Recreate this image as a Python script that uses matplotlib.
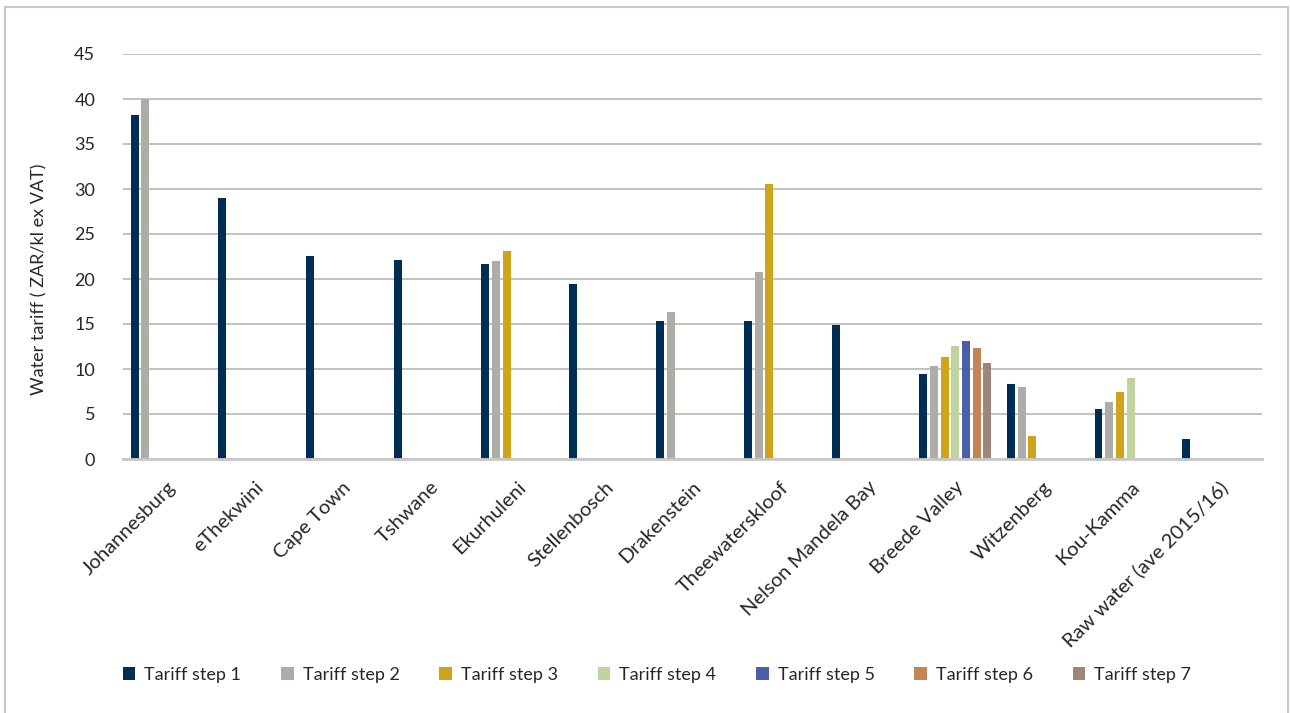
import numpy as np
import matplotlib
matplotlib.use("Agg")
import matplotlib.pyplot as plt
from matplotlib.patches import Rectangle

# ==========================================
# DATA
# ==========================================
CATEGORIES = [
    "Johannesburg", "eThekwini", "Cape Town", "Tshwane", "Ekurhuleni",
    "Stellenbosch", "Drakenstein", "Theewaterskloof", "Nelson Mandela Bay",
    "Breede Valley", "Witzenberg", "Kou-Kamma", "Raw water (ave 2015/16)",
]

SERIES_NAMES = [f"Tariff step {i}" for i in range(1, 8)]

# NaN = no bar for that step
nan = np.nan
STEP_1 = [38.2, 29.0, 22.6, 22.1, 21.7, 19.4, 15.3, 15.3, 14.9, 9.5, 8.35, 5.6, 2.2]
STEP_2 = [40.0, nan, nan, nan, 22.05, nan, 16.3, 20.8, nan, 10.35, 8.0, 6.35, nan]
STEP_3 = [nan, nan, nan, nan, 23.15, nan, nan, 30.55, nan, 11.35, 2.6, 7.45, nan]
STEP_4 = [nan, nan, nan, nan, nan, nan, nan, nan, nan, 12.55, nan, 9.0, nan]
STEP_5 = [nan, nan, nan, nan, nan, nan, nan, nan, nan, 13.1, nan, nan, nan]
STEP_6 = [nan, nan, nan, nan, nan, nan, nan, nan, nan, 12.35, nan, nan, nan]
STEP_7 = [nan, nan, nan, nan, nan, nan, nan, nan, nan, 10.65, nan, nan, nan]

SERIES = [STEP_1, STEP_2, STEP_3, STEP_4, STEP_5, STEP_6, STEP_7]

COLORS = ["#002D53", "#AFACA8", "#D0A418", "#C0D39E", "#4B5FA8", "#C38456", "#9C867A"]

# ==========================================
# PLOT
# ==========================================
plt.rcParams["font.family"] = ["Lato", "DejaVu Sans"]

fig = plt.figure(figsize=(12.9, 7.13), dpi=100)
ax = fig.add_axes([123 / 1290, 1 - 459 / 713, 1139 / 1290, 405 / 713])

x = np.arange(len(CATEGORIES))
slot = 0.122
bar_width = 0.091
n = len(SERIES)

for j, (name, values, color) in enumerate(zip(SERIES_NAMES, SERIES, COLORS)):
    offset = (j - (n - 1) / 2) * slot
    ax.bar(x + offset, values, width=bar_width, color=color, label=name, zorder=3)

ax.set_xlim(-0.5, len(CATEGORIES) - 0.5)
ax.set_ylim(0, 45)
ax.set_yticks(range(0, 50, 5))

ax.grid(axis="y", color="#BAB8B4", linewidth=1.2, zorder=0)
ax.set_axisbelow(True)

for side in ["top", "right", "left"]:
    ax.spines[side].set_visible(False)
ax.spines["bottom"].set_color("#C8C8C8")
ax.spines["bottom"].set_linewidth(2)
ax.spines["bottom"].set_zorder(4)

ax.tick_params(axis="y", length=0, pad=20, labelsize=13, labelcolor="#262626")
ax.tick_params(axis="x", length=0, pad=14, labelsize=14.5, labelcolor="#262626")

ax.set_xticks(x)
ax.set_xticklabels(CATEGORIES, rotation=45, ha="right", rotation_mode="anchor")

ax.set_ylabel("Water tariff ( ZAR/kl ex VAT)", fontsize=13, color="#262626")
ax.yaxis.set_label_coords(-0.066, 0.444)

fig.legend(
    loc="center",
    bbox_to_anchor=(657 / 1290, 1 - 675 / 713),
    ncol=7,
    frameon=False,
    fontsize=13,
    handlelength=0.7,
    handleheight=0.7,
    handletextpad=0.5,
    columnspacing=2.2,
    labelcolor="#262626",
)

# thin frame around the whole chart
fig.patches.append(Rectangle(
    (5 / 1290, -0.01), 1283 / 1290, 1.0,
    transform=fig.transFigure, fill=False, edgecolor="#C8C8C8", linewidth=1.5
))

fig.savefig("out.png", dpi=100)
